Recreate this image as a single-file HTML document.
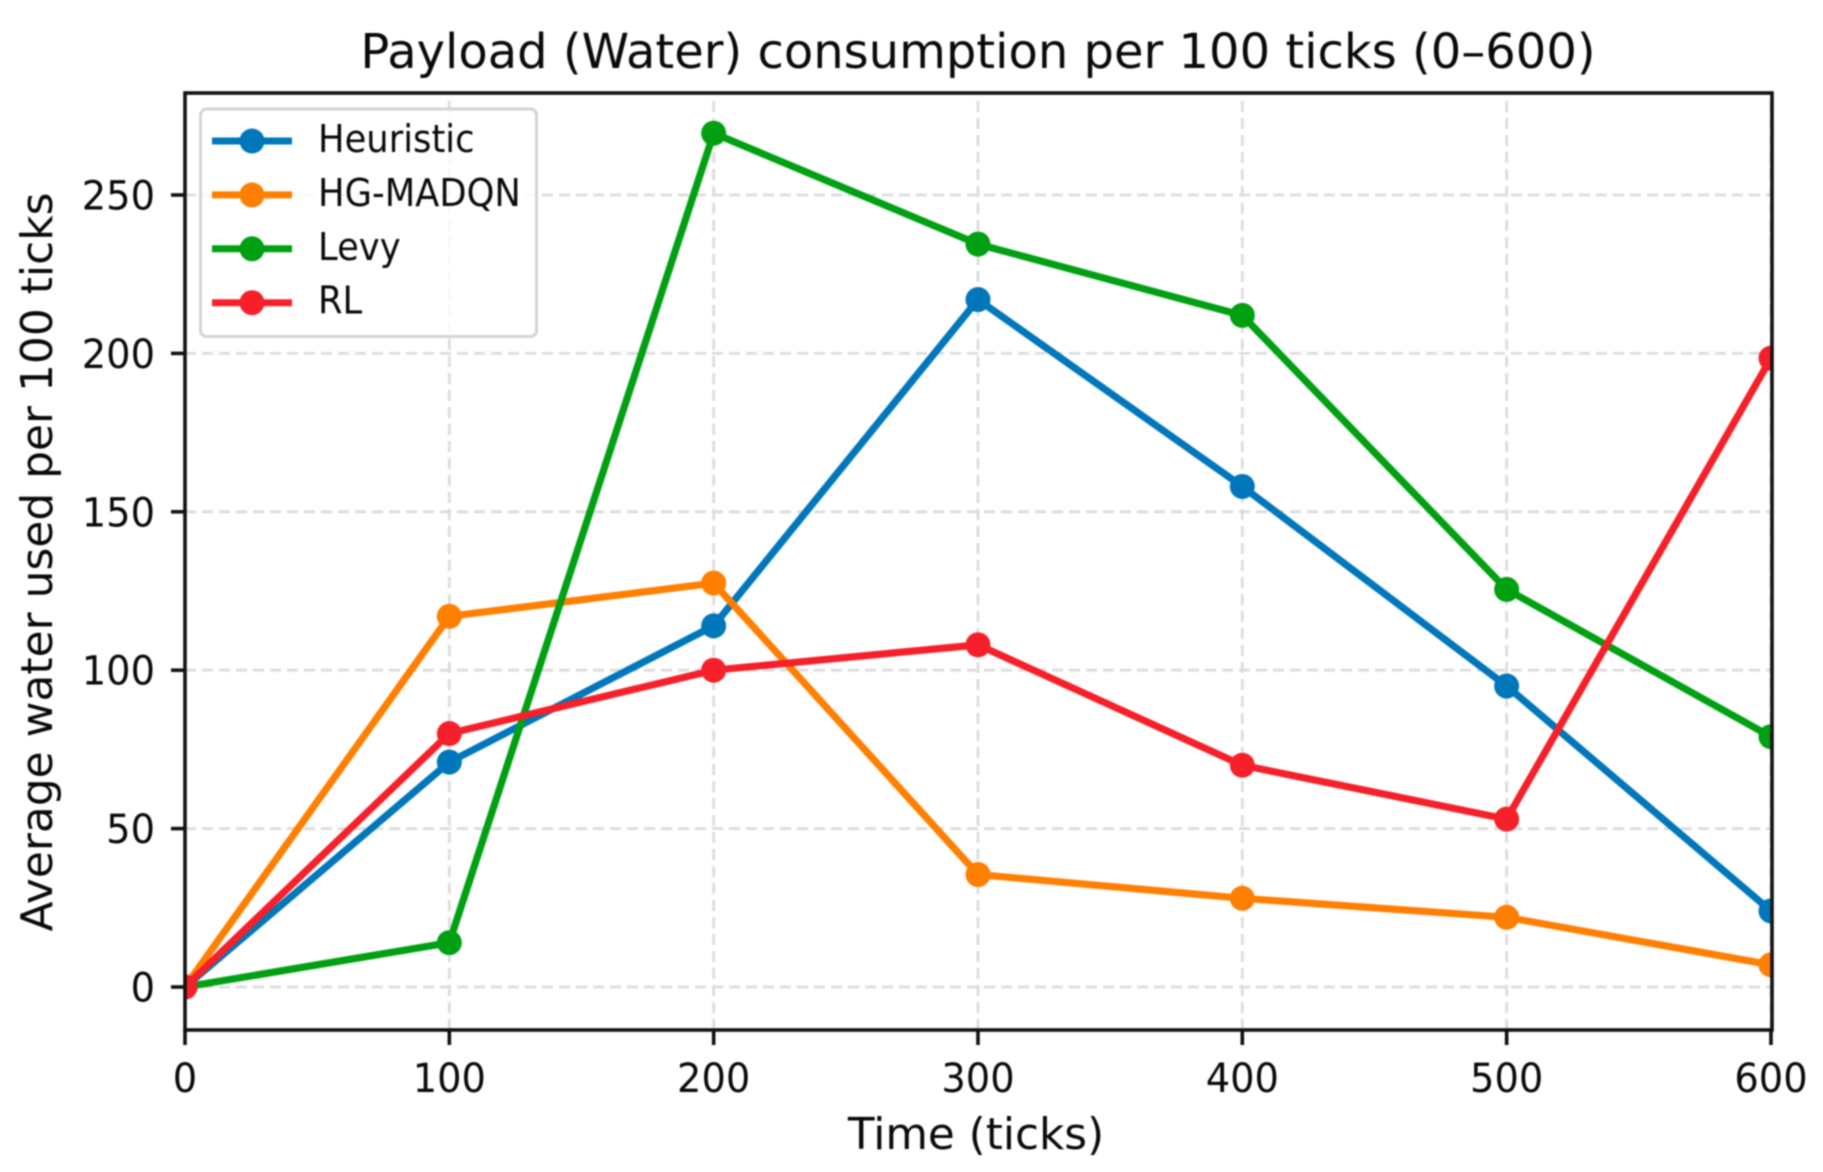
<!DOCTYPE html>
<html>
<head>
<meta charset="utf-8">
<title>Payload (Water) consumption per 100 ticks</title>
<style>
html,body{margin:0;padding:0;background:#fff;width:1823px;height:1172px;overflow:hidden}
svg{display:block;filter:blur(0.85px)}
text{font-family:"DejaVu Sans","Liberation Sans",sans-serif;fill:#0a0a0a}
</style>
</head>
<body>
<svg id="chart" xmlns="http://www.w3.org/2000/svg" width="1823" height="1172" viewBox="0 0 1823 1172">
<rect width="1823" height="1172" fill="#fff"/>
<defs><clipPath id="plot-clip"><rect x="185" y="93" width="1587" height="937"/></clipPath></defs>
<g id="grid"></g>
<g id="series" clip-path="url(#plot-clip)"></g>
<g id="axes"></g>
<g id="legend"></g>
<text x="978" y="68" text-anchor="middle" font-size="48">Payload (Water) consumption per 100 ticks (0–600)</text>
<text x="976" y="1149" text-anchor="middle" font-size="43.7">Time (ticks)</text>
<text transform="translate(52,562) rotate(-90)" text-anchor="middle" font-size="43.9">Average water used per 100 ticks</text>
</svg>
<script>
const categories = [0, 100, 200, 300, 400, 500, 600];
const heuristicValues = [0, 71, 114, 217, 158, 95, 24];
const hgMadqnValues = [0, 117, 127.5, 35.5, 28, 22, 7];
const levyValues = [0, 14, 269.5, 234.5, 212, 125.5, 79];
const rlValues = [0, 80, 100, 108, 70, 53, 198.5];
const seriesNames = ['Heuristic', 'HG-MADQN', 'Levy', 'RL'];
const xTickLabels = [0, 100, 200, 300, 400, 500, 600];
const yTickLabels = [0, 50, 100, 150, 200, 250];

const NS = 'http://www.w3.org/2000/svg';
const seriesData = [heuristicValues, hgMadqnValues, levyValues, rlValues];
const seriesColors = ['#0077bb', '#ff7f00', '#00a012', '#f5202a'];
const plot = {left: 185, right: 1772, top: 93, bottom: 1030};
const xScale = v => 185 + v * 2.6433;
const yScale = v => 987 - v * 3.168;

function make(tag, parent, attrs, text) {
  const el = document.createElementNS(NS, tag);
  for (const k in attrs) el.setAttribute(k, attrs[k]);
  if (text !== undefined) el.textContent = text;
  parent.appendChild(el);
  return el;
}
const gridG = document.getElementById('grid');
const seriesG = document.getElementById('series');
const axesG = document.getElementById('axes');
const legendG = document.getElementById('legend');
const gridStyle = {stroke: '#dcdcdc', 'stroke-width': 2.8, 'stroke-dasharray': '11 6', fill: 'none'};

xTickLabels.forEach(v => {
  const x = xScale(v);
  const g = make('line', gridG, Object.assign({x1: x, x2: x, y1: plot.bottom, y2: plot.top}, gridStyle));
  
  
  const t = make('line', axesG, {x1: x, x2: x, y1: plot.bottom, y2: plot.bottom + 15, stroke: '#111', 'stroke-width': 3.6});
  
  
  const l = make('text', axesG, {transform: 'translate(' + x + ',1092) scale(0.96,1)', 'text-anchor': 'middle', 'font-size': 40}, v);
  
  
});
yTickLabels.forEach(v => {
  const y = yScale(v);
  const g = make('line', gridG, Object.assign({x1: plot.left, x2: plot.right, y1: y, y2: y}, gridStyle));
  
  
  const t = make('line', axesG, {x1: plot.left - 14, x2: plot.left, y1: y, y2: y, stroke: '#111', 'stroke-width': 3.6});
  
  
  const l = make('text', axesG, {transform: 'translate(155,' + (y + 14.5) + ') scale(0.96,1)', 'text-anchor': 'end', 'font-size': 40}, v);
  
  
});

seriesData.forEach((vals, i) => {
  const g = make('g', seriesG, {});
  
  
  const pts = vals.map((v, j) => xScale(categories[j]) + ',' + yScale(v)).join(' ');
  const line = make('polyline', g, {points: pts, fill: 'none', stroke: seriesColors[i], 'stroke-width': 7.2, 'stroke-linejoin': 'round'});
  
  
  vals.forEach((v, j) => {
    const c = make('circle', g, {cx: xScale(categories[j]), cy: yScale(v), r: 12.5, fill: seriesColors[i]});
    
    
  });
});

const frame = make('rect', axesG, {x: plot.left, y: plot.top, width: plot.right - plot.left, height: plot.bottom - plot.top, fill: 'none', stroke: '#111', 'stroke-width': 3.6});



const box = make('rect', legendG, {x: 200.5, y: 109, width: 336, height: 227.5, rx: 6, ry: 6, fill: '#fff', 'fill-opacity': 0.8, stroke: '#d4d4d4', 'stroke-width': 3});


seriesNames.forEach((name, i) => {
  const y = 141 + i * 53.9;
  const g = make('g', legendG, {});
  
  
  make('line', g, {x1: 212, x2: 292, y1: y, y2: y, stroke: seriesColors[i], 'stroke-width': 7});
  make('circle', g, {cx: 252, cy: y, r: 12.5, fill: seriesColors[i]});
  make('text', g, {transform: 'translate(318,' + (y + 11) + ') scale(0.93,1)', 'font-size': 38}, name);
});
</script>
</body>
</html>
